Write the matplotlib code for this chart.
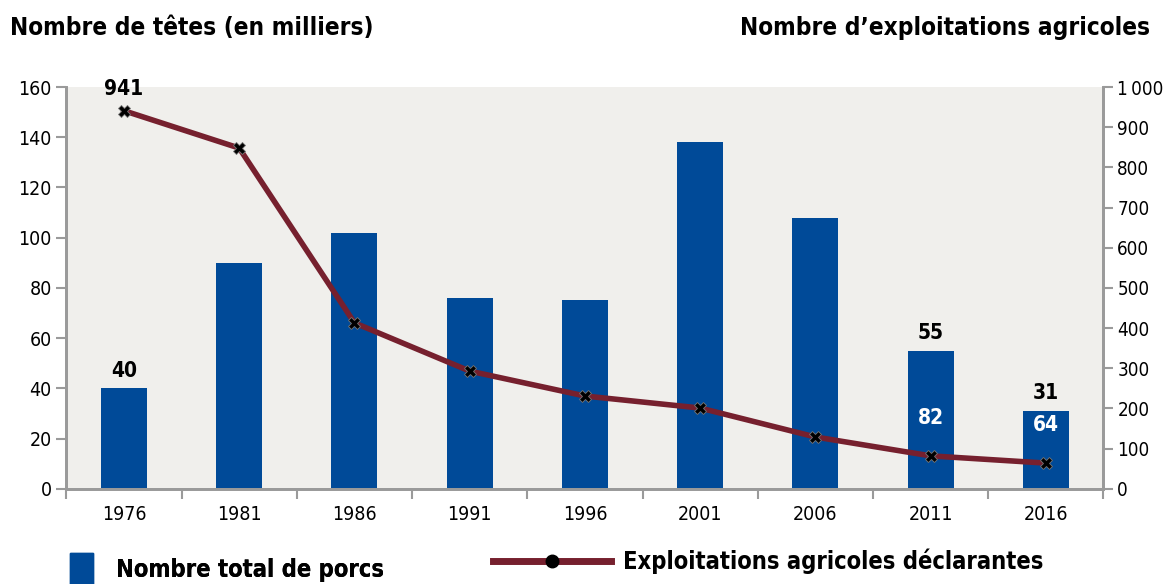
import matplotlib.pyplot as plt
from matplotlib.lines import Line2D
from matplotlib.patches import Patch

years = ["1976", "1981", "1986", "1991", "1996", "2001", "2006", "2011", "2016"]
porcs = [40, 90, 102, 76, 75, 138, 108, 55, 31]          # milliers de têtes
exploitations = [941, 848, 413, 293, 231, 201, 129, 82, 64]

plt.rcParams["font.family"] = ["DejaVu Sans"]
plt.rcParams["font.stretch"] = "condensed"

BLUE = "#004A98"
RED = "#76202E"
BG = "#F0EFEC"
GREY = "#9A9A9A"

fig = plt.figure(figsize=(11.64, 5.84), dpi=100)
ax = fig.add_axes([0.057, 0.163, 0.891, 0.688])
ax.set_facecolor(BG)
x = list(range(len(years)))

ax.bar(x, porcs, width=0.4, color=BLUE, zorder=2)
ax.set_xlim(-0.5, len(years) - 0.5)
ax.set_ylim(0, 160)
ax.set_yticks(range(0, 161, 20))
ax.set_xticks(x)
ax.set_xticklabels(years)
ax.set_xticks([i + 0.5 for i in range(-1, len(years))], minor=True)
ax.tick_params(axis="x", which="major", length=0, labelsize=14, pad=12)
ax.tick_params(axis="x", which="minor", length=7, color=GREY, width=1.5)
ax.tick_params(axis="y", labelsize=14, color=GREY, width=1.5, length=7)

ax2 = ax.twinx()
ax2.set_ylim(0, 1000)
ax2.set_yticks(range(0, 1001, 100))
ax2.set_yticklabels([f"{v:,}".replace(",", "\u202f") for v in range(0, 1001, 100)])
ax2.tick_params(axis="y", labelsize=13.5, color=GREY, width=1.5, length=7, pad=3)
ax2.plot(x, exploitations, color=RED, lw=4, zorder=3)
ax2.plot(x, exploitations, ls="none", marker="X", ms=8, color="black",
         markeredgecolor="#777777", markeredgewidth=0.6, zorder=4)

for a in (ax, ax2):
    a.spines["top"].set_visible(False)
    for s in ("left", "right", "bottom"):
        a.spines[s].set_color(GREY)
        a.spines[s].set_linewidth(2)

# étiquettes de valeurs
bold = dict(fontsize=15, fontweight="bold", ha="center")
ax.text(0, porcs[0] + 3, str(porcs[0]), va="bottom", **bold)
ax.text(7, porcs[7] + 3, str(porcs[7]), va="bottom", **bold)
ax.text(8, porcs[8] + 3, str(porcs[8]), va="bottom", **bold)
ax2.text(0, exploitations[0] + 30, str(exploitations[0]), va="bottom", **bold)
ax2.text(7, 175, str(exploitations[7]), va="center", color="white", **bold)
ax2.text(8, 160, str(exploitations[8]), va="center", color="white", **bold)

fig.text(0.009, 0.952, "Nombre de têtes (en milliers)", fontsize=17.5,
         fontweight="bold", ha="left", va="center")
fig.text(0.988, 0.952, "Nombre d\u2019exploitations agricoles", fontsize=17.5,
         fontweight="bold", ha="right", va="center")

leg_prop = {"size": 17, "weight": "bold"}
leg1 = fig.legend([Patch(color=BLUE)], ["Nombre total de porcs"],
                  loc="lower left", bbox_to_anchor=(0.042, -0.04), frameon=False,
                  prop=leg_prop, handlelength=0.95, handleheight=1.8,
                  handletextpad=1.0)
fig.add_artist(leg1)
fig.legend([Line2D([], [], color=RED, lw=5, marker="o", ms=9,
                   markerfacecolor="black", markeredgecolor="black")],
           ["Exploitations agricoles déclarantes"],
           loc="lower left", bbox_to_anchor=(0.405, -0.02), frameon=False,
           prop=leg_prop, handlelength=5.0, handletextpad=0.5)

fig.savefig("out.png", dpi=100)
